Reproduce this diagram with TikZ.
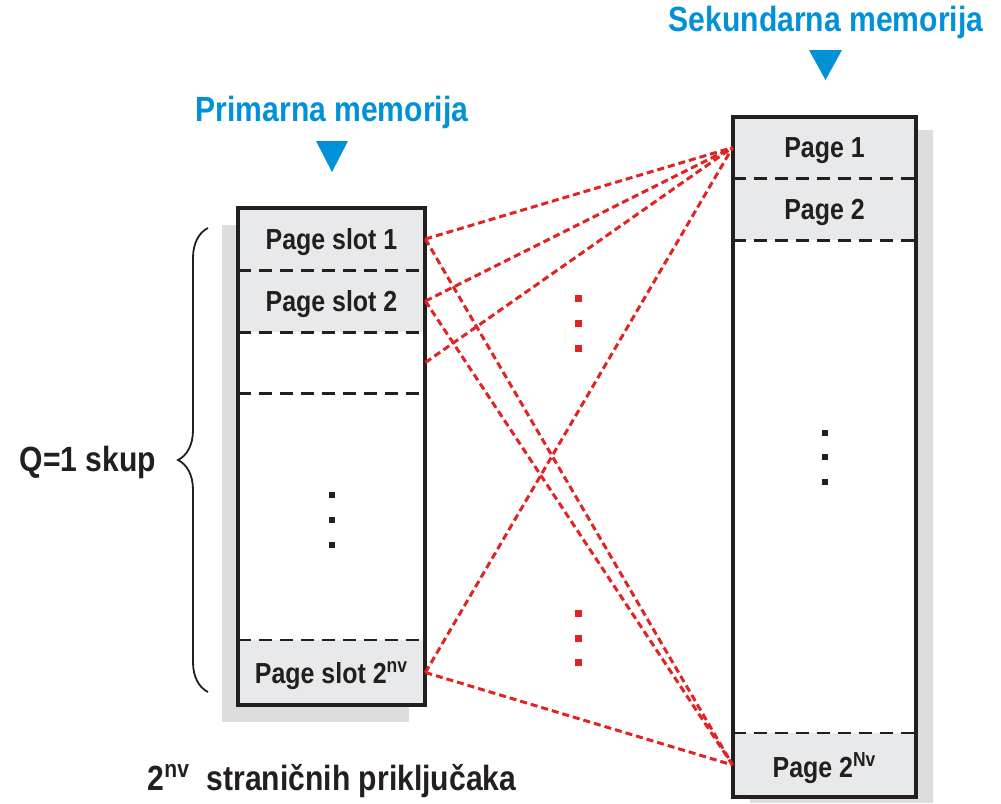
\documentclass[tikz,border=0pt]{standalone}
\usepackage{fontspec}
\setmainfont{Liberation Sans}
\newfontfamily\narrowbold[FakeStretch=0.86]{Liberation Sans Bold}
\usetikzlibrary{decorations.pathreplacing}

\definecolor{memblue}{RGB}{0,145,215}
\definecolor{linkred}{RGB}{225,35,35}
\definecolor{slotgray}{RGB}{232,233,235}
\definecolor{shadowgray}{RGB}{221,221,221}
\definecolor{ink}{RGB}{35,31,32}

\tikzset{
    slotrow/.style={minimum width=93.5pt, minimum height=31pt, inner sep=0pt, text depth=0pt, fill=slotgray, text=ink, font=\fontsize{14.5}{17}\narrowbold},
    pagerow/.style={slotrow, minimum width=91.5pt},
    frame/.style={draw=ink, line width=1.8pt, inner sep=0pt},
    sepline/.style={draw=ink, line width=1.1pt, dash pattern=on 6.5pt off 4pt},
    link/.style={draw=linkred, line width=1.5pt, dash pattern=on 3.5pt off 2pt},
    memtitle/.style={text=memblue, font=\fontsize{17.5}{20}\narrowbold},
    biglabel/.style={text=ink, font=\fontsize{17.5}{20}\narrowbold},
}

\begin{document}
\begin{tikzpicture}[x=0.5pt, y=-0.5pt]
    \useasboundingbox (0,0) rectangle (1001,803);

    \fill [shadowgray] (222,225) rectangle (409,722);
    \fill [shadowgray] (750,130) rectangle (933,803);

    \node (prim_bg) [fill=white, minimum width=93.5pt, minimum height=248.5pt, inner sep=0pt] at (331.5,456.5) {};
    \node (sek_bg) [fill=white, minimum width=91.5pt, minimum height=340pt, inner sep=0pt] at (824.5,457) {};

    \node (slot1) [slotrow] at (331.5,239) {Page slot 1};
    \node (slot2) [slotrow] at (331.5,301) {Page slot 2};
    \node (slot3) [slotrow, fill=white, minimum height=30.5pt] at (331.5,362.5) {};
    \node (slotn) [slotrow, minimum height=32.5pt] at (331.5,672.5) {Page slot 2\textsuperscript{nv}};

    \node (page1) [pagerow, minimum height=30.5pt] at (824.5,147.5) {Page 1};
    \node (page2) [pagerow] at (824.5,209) {Page 2};
    \node (pagen) [pagerow, minimum height=32pt] at (824.5,765) {Page 2\textsuperscript{Nv}};

    \draw [sepline] (slot1.south west) -- (slot1.south east);
    \draw [sepline] (slot2.south west) -- (slot2.south east);
    \draw [sepline] (slot3.south west) -- (slot3.south east);
    \draw [sepline] (slotn.north west) -- (slotn.north east);
    \draw [sepline] (page1.south west) -- (page1.south east);
    \draw [sepline] (page2.south west) -- (page2.south east);
    \draw [sepline] (pagen.north west) -- (pagen.north east);

    \node (prim) [frame, minimum width=93.5pt, minimum height=248.5pt] at (331.5,456.5) {};
    \node (sek) [frame, minimum width=91.5pt, minimum height=340pt] at (824.5,457) {};

    \foreach \y in {495,520,545} \fill [ink] (329,\y-3) rectangle ++(6,6);
    \foreach \y in {433,457,482} \fill [ink] (822,\y-3) rectangle ++(6,6);
    \foreach \y in {298,323,348,613,638,662} \fill [linkred] (574.5,\y-3.5) rectangle ++(7,7);

    \draw [link] (slot1.east) -- (page1.west);
    \draw [link] (slot2.east) -- (page1.west);
    \draw [link] (slot3.east) -- (page1.west);
    \draw [link] (slotn.east) -- (page1.west);
    \draw [link] (slot1.east) -- (pagen.west);
    \draw [link] (slot2.east) -- (pagen.west);
    \draw [link] (slotn.east) -- (pagen.west);

    \node (prim_title) [memtitle] at (332,112) {Primarna memorija};
    \fill [memblue] (316,141) -- (348,141) -- (332,172) -- cycle;
    \node (sek_title) [memtitle] at (826,22) {Sekundarna memorija};
    \fill [memblue] (809,50) -- (842,50) -- (825.5,80) -- cycle;

    \draw [ink, line width=0.9pt, decorate, decoration={brace, amplitude=15pt}] (208,692) -- (208,228);
    \node (skup) [biglabel] at (88,462) {Q=1 skup};
    \node (prikljucci) [biglabel] at (332,781) {2\textsuperscript{nv}\ \ straničnih priključaka};
\end{tikzpicture}
\end{document}
